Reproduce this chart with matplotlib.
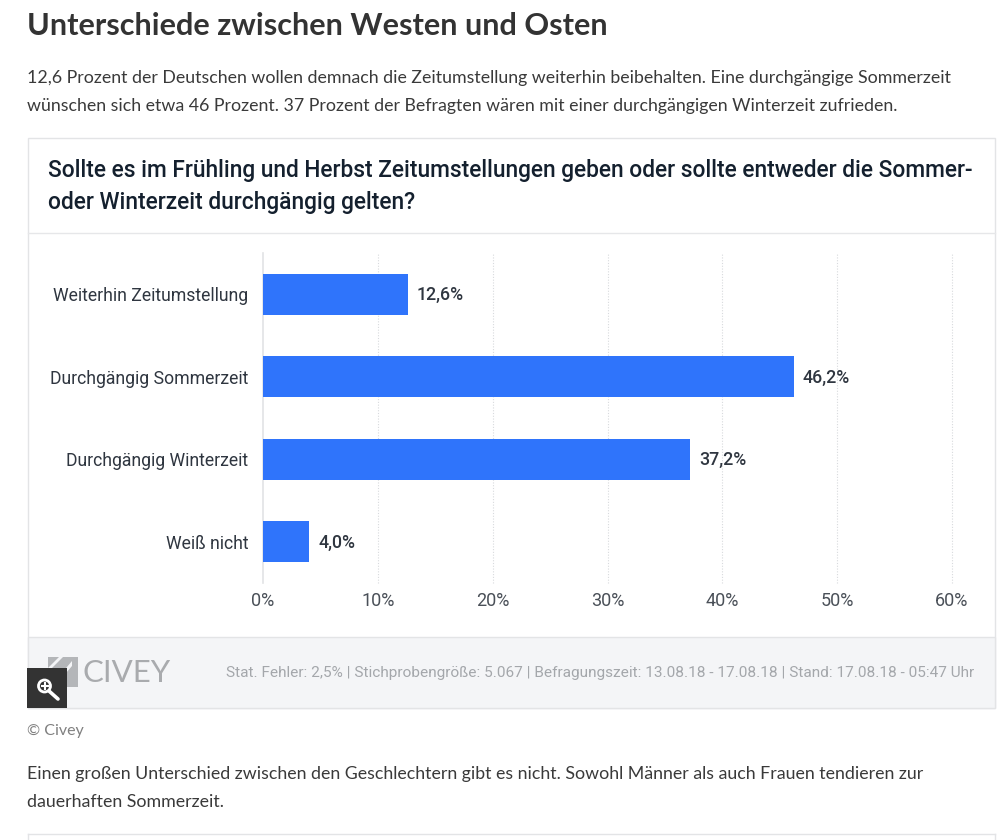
import matplotlib
matplotlib.use("Agg")
import matplotlib.pyplot as plt
from matplotlib.patches import Rectangle, Polygon, Circle

categories = ["Weiterhin Zeitumstellung", "Durchgängig Sommerzeit", "Durchgängig Winterzeit", "Weiß nicht"]
values = [12.6, 46.2, 37.2, 4.0]
value_labels = ["12,6%", "46,2%", "37,2%", "4,0%"]
ticks = [0, 10, 20, 30, 40, 50, 60]
tick_labels = ["0%", "10%", "20%", "30%", "40%", "50%", "60%"]

W, H = 1007, 840
fig = plt.figure(figsize=(W / 100, H / 100), dpi=100, facecolor="white")

# page layer in pixel coordinates
page = fig.add_axes([0, 0, 1, 1])
page.set_xlim(0, W)
page.set_ylim(H, 0)
page.axis("off")

dark = "#333333"
body = "#3a3a3a"
navy = "#14202e"

page.text(27, 26, "Unterschiede zwischen Westen und Osten", fontsize=22.1, fontweight="bold",
          family="Lato", color=dark, va="center")
page.text(27, 78, "12,6 Prozent der Deutschen wollen demnach die Zeitumstellung weiterhin beibehalten. Eine durchgängige Sommerzeit",
          fontsize=12.82, family="Lato", color=body, va="center")
page.text(27, 106, "wünschen sich etwa 46 Prozent. 37 Prozent der Befragten wären mit einer durchgängigen Winterzeit zufrieden.",
          fontsize=12.82, family="Lato", color=body, va="center")

# card
page.add_patch(Rectangle((27.5, 137.5), 967.5, 570, fc="white", ec="#e3e4e6", lw=1))
page.plot([28, 995], [232.5, 232.5], color="#e6e7e9", lw=1)
page.text(48.5, 171, "Sollte es im Frühling und Herbst Zeitumstellungen geben oder sollte entweder die Sommer-",
          fontsize=16.43, fontweight="medium", family="Roboto", color=navy, va="center")
page.text(48.5, 202, "oder Winterzeit durchgängig gelten?",
          fontsize=16.43, fontweight="medium", family="Roboto", color=navy, va="center")

# footer
page.add_patch(Rectangle((28, 637), 967, 70.5, fc="#f4f5f7", ec="#e3e4e6", lw=1))
page.add_patch(Rectangle((48, 657), 30, 30, fc="#b4b6b9", ec="none"))
page.add_patch(Polygon([(48, 668), (59, 657), (63, 657), (48, 672)], fc="#f4f5f7", ec="none"))
page.add_patch(Polygon([(56, 680), (72, 661), (72, 666), (60, 680)], fc="#f4f5f7", ec="none"))
page.text(83, 673, "CIVEY", fontsize=22.4, family="Lato", color="#a9abae", va="center")
page.text(974.5, 673, "Stat. Fehler: 2,5% | Stichprobengröße: 5.067 | Befragungszeit: 13.08.18 - 17.08.18 | Stand: 17.08.18 - 05:47 Uhr",
          fontsize=11.05, family="Roboto", color="#a4a7ab", va="center", ha="right")

# zoom button
page.add_patch(Rectangle((27, 668), 40, 40, fc="#333333", ec="none", zorder=5))
page.add_patch(Circle((44.5, 686), 6, fc="#333333", ec="white", lw=2, zorder=6))
page.plot([49, 58], [691, 699], color="white", lw=2.6, zorder=6, solid_capstyle="round")
page.plot([41.5, 47.5], [686, 686], color="white", lw=1.5, zorder=7)
page.plot([44.5, 44.5], [683, 689], color="white", lw=1.5, zorder=7)

page.text(27, 730.5, "© Civey", fontsize=11.5, family="Lato", color="#808080", va="center")
page.text(27, 774, "Einen großen Unterschied zwischen den Geschlechtern gibt es nicht. Sowohl Männer als auch Frauen tendieren zur",
          fontsize=12.8, family="Lato", color=body, va="center")
page.text(27, 802, "dauerhaften Sommerzeit.", fontsize=12.8, family="Lato", color=body, va="center")

# start of next card
page.plot([27.5, 27.5], [840, 833.5], color="#e3e4e6", lw=1)
page.plot([27.5, 995], [833.5, 833.5], color="#e3e4e6", lw=1)
page.plot([995, 995], [833.5, 840], color="#e3e4e6", lw=1)

# bar chart
left, right, top, bottom = 263, 952, 253, 583
ax = fig.add_axes([left / W, 1 - bottom / H, (right - left) / W, (bottom - top) / H])
ax.patch.set_alpha(0)
positions = range(len(categories))
bars = ax.barh(positions, values, height=0.5, color="#2f74fb", zorder=3)
ax.set_xlim(0, 60)
ax.set_ylim(len(categories) - 0.5, -0.5)
ax.set_xticks(ticks)
ax.set_xticklabels(tick_labels, fontsize=13, family="Roboto", color="#4a5058")
ax.set_yticks(list(positions))
ax.set_yticklabels(categories, fontsize=12.7, family="Roboto", color="#2f3640")
ax.tick_params(axis="both", length=0)
ax.tick_params(axis="y", pad=10.7)
ax.tick_params(axis="x", pad=6.3)
for t in ticks[1:]:
    ax.axvline(t, color="#d8dadd", lw=0.8, linestyle=(0, (1, 1.5)), zorder=0, clip_on=False)
ax.axvline(0, color="#e2e3e5", lw=1.2, zorder=1, clip_on=False)
for side in ax.spines.values():
    side.set_visible(False)
for bar, label in zip(bars, value_labels):
    ax.annotate(label, (bar.get_width(), bar.get_y() + bar.get_height() / 2), xytext=(6.6, -0.7),
                textcoords="offset points", va="center", fontsize=12.8, fontweight="medium",
                family="Roboto", color="#2f3640")

fig.savefig("out.png", dpi=100)
